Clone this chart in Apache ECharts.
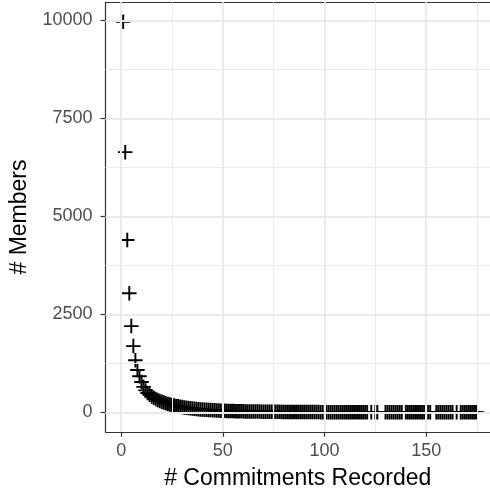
<!DOCTYPE html>
<html>
<head>
<meta charset="utf-8">
<script src="https://cdn.jsdelivr.net/npm/echarts@6/dist/echarts.min.js"></script>
<style>
  html, body { margin: 0; padding: 0; background: #fff; }
  #chart { width: 490px; height: 498px; }
</style>
</head>
<body>
<div id="chart"></div>
<script>
// x values: number of commitments recorded
var commitments = [
  1, 2, 3, 4, 5, 6, 7, 8, 9, 10, 11, 12, 13, 14, 15, 16, 17, 18, 19, 20,
  21, 22, 23, 24, 25, 26, 27, 28, 29, 30, 31, 32, 33, 34, 35, 36, 37, 38, 39, 40,
  41, 42, 43, 44, 45, 46, 47, 48, 49, 50, 51, 52, 53, 54, 55, 56, 57, 58, 59, 60,
  61, 62, 63, 64, 65, 66, 67, 68, 69, 70, 71, 72, 73, 74, 75, 76, 77, 78, 79, 80,
  81, 82, 83, 84, 85, 86, 87, 88, 89, 90, 91, 92, 93, 94, 95, 96, 97, 98, 99, 100,
  101, 102, 103, 104, 105, 106, 107, 108, 109, 110, 111, 112, 113, 114, 115, 116, 117, 118, 119, 120,
  121, 123, 125, 126,
  130, 131, 132, 133, 134, 135, 136, 137, 138,
  140, 141, 142, 143, 144, 145, 146, 147, 148, 149,
  151, 152,
  155, 156, 157, 158, 159, 160, 161, 162, 163,
  165,
  167, 168, 169, 170, 171, 172, 173, 174, 175
];
// y values: number of members
var members = [
  9970, 6640, 4400, 3040, 2200, 1690, 1330, 1080, 920, 775,
  650, 560, 495, 450, 405, 370, 340, 312, 288, 268,
  248, 231, 215, 200, 187, 175, 163, 152, 142, 133,
  124, 116, 109, 102, 96, 90, 85, 80, 75, 71,
  67, 63, 60, 57, 54, 51, 48, 45, 43, 41,
  38, 36, 34, 33, 31, 30, 28, 27, 26, 25,
  24, 23, 22, 21, 20, 19, 18, 18, 17, 16,
  16, 15, 14, 14, 13, 13, 12, 12, 11, 11,
  10, 10, 10, 9, 9, 9, 8, 8, 8, 7,
  7, 7, 7, 6, 6, 6, 6, 5, 5, 5,
  5, 5, 4, 4, 4, 4, 4, 3, 3, 3,
  3, 3, 3, 3, 2, 2, 2, 2, 2, 2,
  2, 1, 2, 1,
  1, 2, 1, 1, 2, 1, 1, 1, 1,
  1, 1, 2, 1, 1, 1, 1, 2, 1, 1,
  1, 1,
  1, 1, 1, 2, 1, 1, 1, 1, 1,
  1,
  1, 1, 1, 1, 1, 1, 1, 1, 1
];

var xTicks = [0, 50, 100, 150];
var xMinor = [25, 75, 125, 175];
var yTicks = [0, 2500, 5000, 7500, 10000];
var yMinor = [1250, 3750, 6250, 8750];

var points = commitments.map(function (c, i) { return [c, members[i]]; });

var font = "'Liberation Sans', Arial, sans-serif";
var majorColor = "#EBEBEB";
var borderColor = "#333";

function gridLines(vals, key, width) {
  return vals.map(function (v) {
    var d = {};
    d[key] = v;
    d.lineStyle = { color: majorColor, width: width, type: "solid" };
    return d;
  });
}

var chart = echarts.init(document.getElementById("chart"));
var option = {
  animation: false,
  backgroundColor: "#fff",
  grid: {
    left: 105.5,
    right: 0,
    top: 2.2,
    bottom: 66.2,
    show: false,
    containLabel: false
  },
  xAxis: [
    {
      type: "value",
      min: -7.7,
      max: 181.4,
      name: "# Commitments Recorded",
      nameLocation: "middle",
      nameGap: 35,
      nameTextStyle: { fontFamily: font, fontSize: 23, color: "#000" },
      axisLine: { show: true, onZero: false, lineStyle: { color: borderColor, width: 1.2 } },
      splitLine: { show: false },
      axisTick: {
        show: true,
        customValues: xTicks,
        length: 5,
        lineStyle: { color: borderColor, width: 1.2 }
      },
      axisLabel: {
        customValues: xTicks,
        margin: 10,
        fontFamily: font,
        fontSize: 18,
        color: "#4D4D4D",
        formatter: function (v) { return String(v); }
      }
    },
    {
      // top edge of the panel
      type: "value",
      position: "top",
      min: -7.7,
      max: 181.4,
      axisLine: { show: true, onZero: false, lineStyle: { color: borderColor, width: 1.2 } },
      axisTick: { show: false },
      axisLabel: { show: false },
      splitLine: { show: false }
    }
  ],
  yAxis: {
    type: "value",
    min: -497,
    max: 10467,
    name: "# Members",
    nameLocation: "middle",
    nameRotate: 90,
    nameGap: 73,
    nameTextStyle: { fontFamily: font, fontSize: 23, color: "#000" },
    axisLine: { show: true, onZero: false, lineStyle: { color: borderColor, width: 1.2 } },
    splitLine: { show: false },
    axisTick: {
      show: true,
      customValues: yTicks,
      length: 5,
      lineStyle: { color: borderColor, width: 1.2 }
    },
    axisLabel: {
      customValues: yTicks,
      margin: 13,
      fontFamily: font,
      fontSize: 18,
      color: "#4D4D4D",
      formatter: function (v) { return String(v); }
    }
  },
  series: [
    {
      // background grid
      type: "line",
      data: [],
      silent: true,
      z: 1,
      markLine: {
        silent: true,
        symbol: "none",
        label: { show: false },
        animation: false,
        data: []
          .concat(gridLines(xMinor, "xAxis", 1))
          .concat(gridLines(yMinor, "yAxis", 1))
          .concat(gridLines(xTicks, "xAxis", 2))
          .concat(gridLines(yTicks, "yAxis", 2))
      }
    },
    {
      type: "scatter",
      data: points,
      z: 3,
      symbol: "path://M0,13H30V17H0Z M13,0H17V30H13Z",
      symbolSize: 14.5,
      itemStyle: { color: "#000", opacity: 1 }
    }
  ]
};
chart.setOption(option);
</script>
</body>
</html>
